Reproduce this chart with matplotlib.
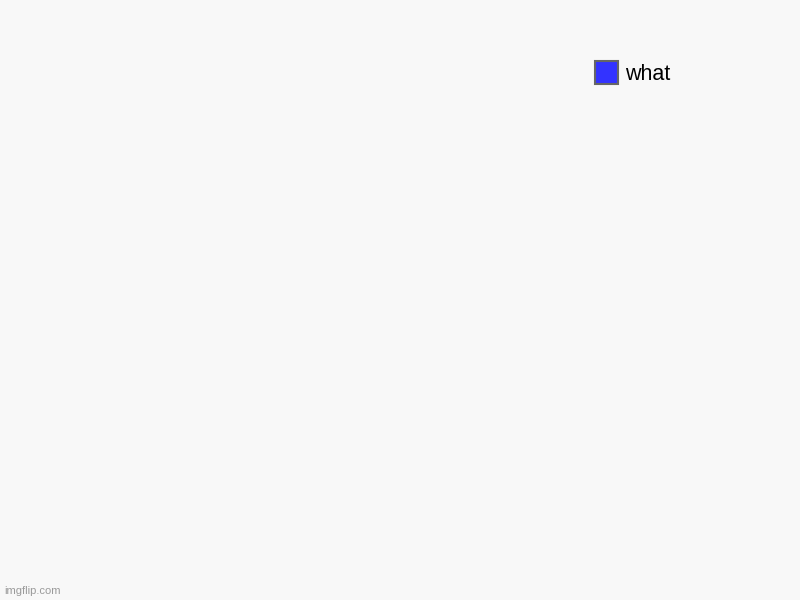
import matplotlib.pyplot as plt
from matplotlib.patches import Patch

# imgflip pie chart with a single, empty slice
labels = ["what"]
values = [0]
colors = ["#3333ff"]

plt.rcParams['font.family'] = ['Liberation Sans', 'DejaVu Sans']

fig = plt.figure(figsize=(8, 6), dpi=100, facecolor='#f8f8f8')
ax = fig.add_axes([0.05, 0.05, 0.6, 0.8])
ax.set_facecolor('#f8f8f8')
ax.axis('off')

# nothing to draw when every value is zero
if sum(values) > 0:
    ax.pie(values, colors=colors, startangle=90, counterclock=False)
ax.set_aspect('equal')

handles = [Patch(facecolor=c, edgecolor='#666666', linewidth=1.5) for c in colors]
fig.legend(handles, labels, loc='upper left', bbox_to_anchor=(595 / 800, 1 - 61 / 600),
           frameon=False, fontsize=15.5, borderpad=0, borderaxespad=0,
           handlelength=1.05, handleheight=1.3, handletextpad=0.35)

fig.text(4 / 800, 1 - 591 / 600, 'imgflip.com', fontsize=8, color='#9a9a9a',
         va='center', ha='left')

fig.savefig('out.png', dpi=100, facecolor=fig.get_facecolor())
